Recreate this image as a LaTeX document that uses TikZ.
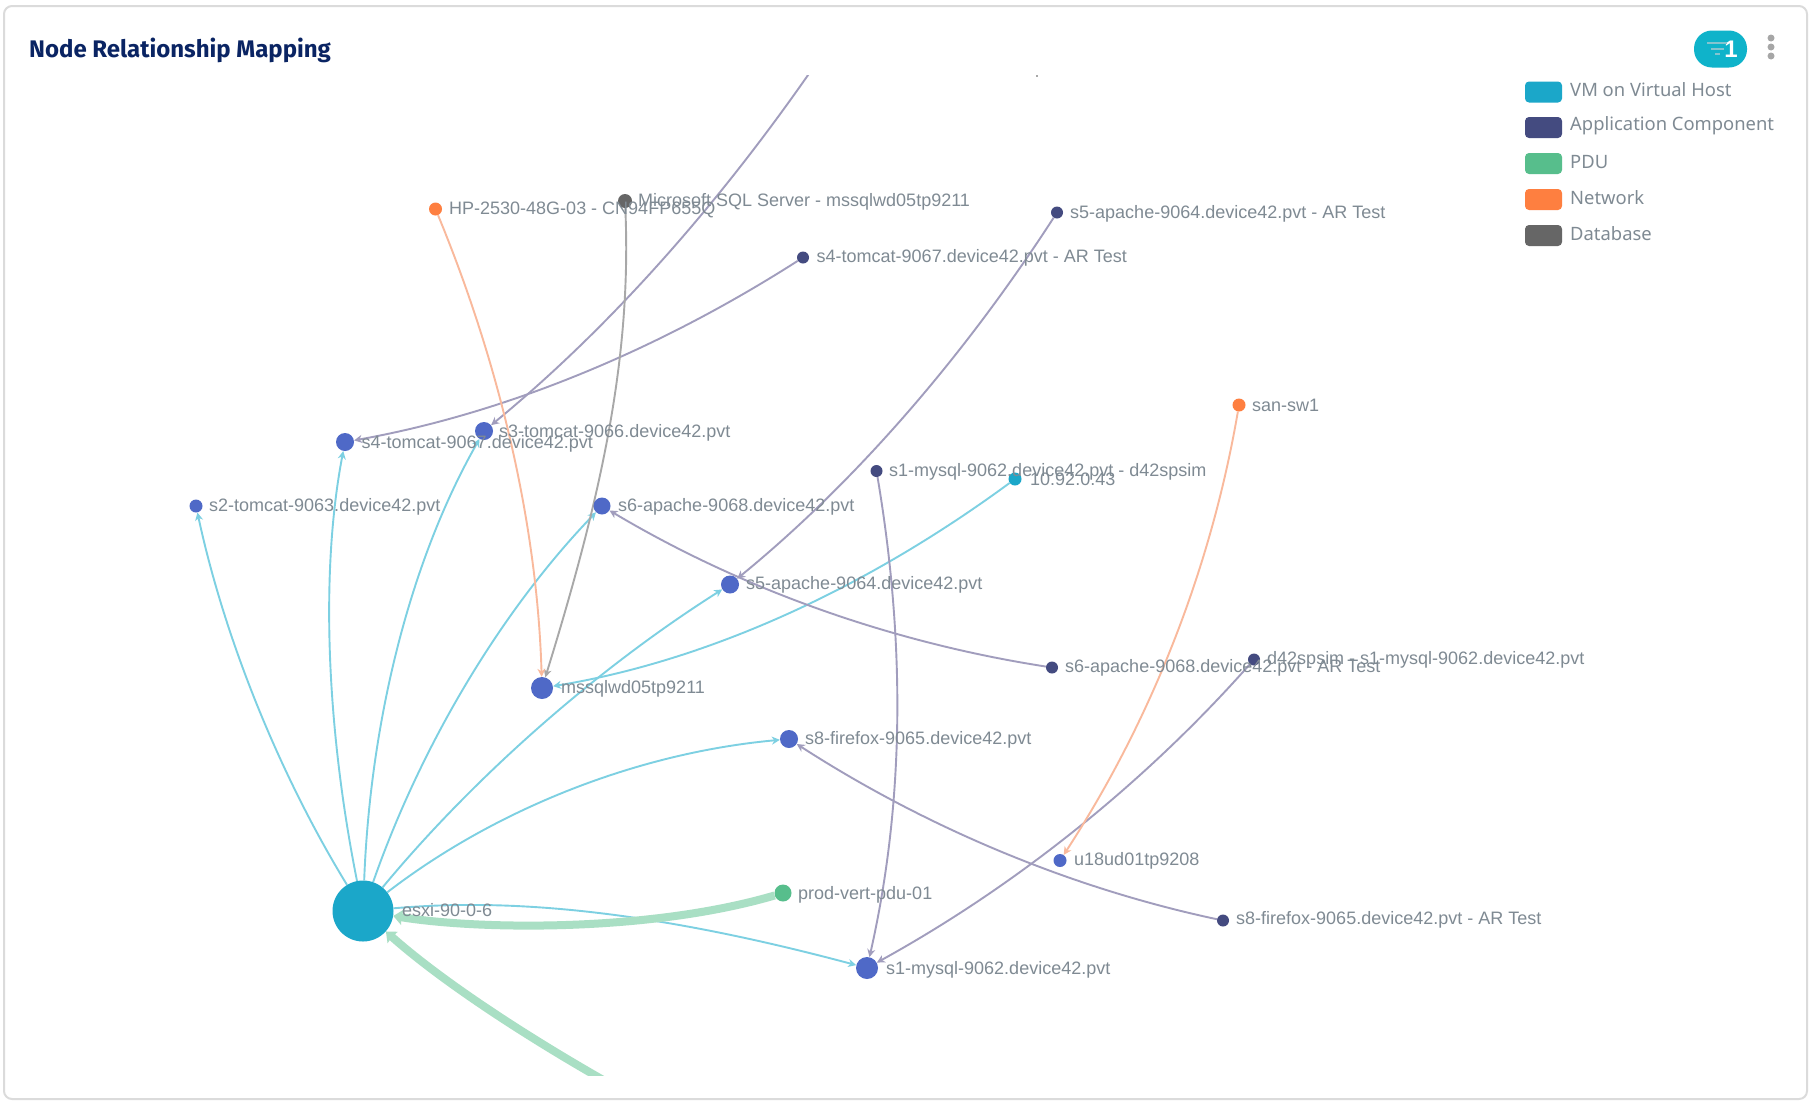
\documentclass[tikz,border=0pt]{standalone}
\usepackage{fontspec}
\setmainfont{Liberation Sans}
\newfontfamily\firafont{Fira Sans}
\newfontfamily\legfont{Noto Sans}
\usetikzlibrary{arrows.meta,backgrounds,calc}
\definecolor{cvm}{HTML}{1BA7C9}
\definecolor{capp}{HTML}{444B80}
\definecolor{cpdu}{HTML}{57BE8C}
\definecolor{cnet}{HTML}{FE7F40}
\definecolor{cdb}{HTML}{666666}
\definecolor{cblue}{HTML}{4F69C7}
\definecolor{ecyan}{HTML}{7DD0E2}
\definecolor{epurple}{HTML}{A19DBD}
\definecolor{egrey}{HTML}{A8A8A8}
\definecolor{eorange}{HTML}{F9B99C}
\definecolor{egreen}{HTML}{A9DFC4}
\definecolor{ctext}{HTML}{7F8A93}
\definecolor{ctitle}{HTML}{0A2463}
\definecolor{cpill}{HTML}{0FB3CA}
\definecolor{cicon}{HTML}{84C4CF}
\newcommand{\qedge}[4]{\draw[#1] (#2) .. controls ($(#2)!.667!#3$) and ($(#4)!.667!#3$) .. (#4);}
\tikzset{
  x=1pt,y=-1pt,
  dot/.style={circle,inner sep=0pt,draw=none},
  vm/.style={dot,fill=cblue},
  app/.style={dot,fill=capp},
  lbl/.style={anchor=west,inner sep=0pt,yshift=-1.5pt,text=ctext,font=\fontsize{18}{18}\selectfont},
  swatch/.style={rectangle,rounded corners=4pt,minimum width=37pt,minimum height=21pt,inner sep=0pt},
  legtext/.style={anchor=west,inner sep=0pt,text=ctext,font=\legfont\fontsize{18.4}{20}\selectfont},
  edgebase/.style={line width=1.9pt,-{Stealth[length=8pt,width=8pt,inset=2.5pt]}},
  ecy/.style={edgebase,draw=ecyan},
  epu/.style={edgebase,draw=epurple},
  egr/.style={edgebase,draw=egrey},
  eor/.style={edgebase,draw=eorange},
  egn/.style={line width=8pt,draw=egreen,-{Stealth[length=9pt,width=15pt,inset=1pt]}},
}
\begin{document}
\begin{tikzpicture}
\useasboundingbox (0,0) rectangle (1811,1101);
% nodes
\node[dot,fill=cvm,minimum size=61pt] (esxi) at (363,911) {};
\node[dot,fill=cpdu,minimum size=17pt] (prod) at (783,893) {};
\node[vm,minimum size=22pt] (s1) at (867,968) {};
\node[vm,minimum size=18pt] (s8) at (789,739) {};
\node[vm,minimum size=13pt] (u18) at (1060,860.5) {};
\node[vm,minimum size=22pt] (mssql) at (542,688) {};
\node[vm,minimum size=18pt] (s5) at (730,584.5) {};
\node[vm,minimum size=17pt] (s6) at (602,506) {};
\node[vm,minimum size=13pt] (s2) at (196,506) {};
\node[vm,minimum size=18pt] (s4) at (345,442) {};
\node[vm,minimum size=18pt] (s3) at (484,431) {};
\node[app,minimum size=12pt] (s8ar) at (1223,920.5) {};
\node[app,minimum size=12pt] (s6ar) at (1052,667.5) {};
\node[app,minimum size=12pt] (d42) at (1254,659.5) {};
\node[app,minimum size=12pt] (s1ar) at (876.5,471) {};
\node[app,minimum size=12pt] (s5ar) at (1057,212.5) {};
\node[app,minimum size=12pt] (s4ar) at (803,257.5) {};
\node[dot,fill=cvm,minimum size=13pt] (ten) at (1015,479) {};
\node[dot,fill=cnet,minimum size=13pt] (san) at (1239,405) {};
\node[dot,fill=cnet,minimum size=13pt] (hp) at (435.5,209) {};
\node[dot,fill=cdb,minimum size=14pt] (db) at (625,201) {};
\coordinate (top) at (840,28);
\coordinate (bot) at (680,1122);
% labels
\node[lbl] (lhp) at (449,208) {HP-2530-48G-03 - CN94FP655Q};
\node[lbl] (ldb) at (638,200) {Microsoft SQL Server - mssqlwd05tp9211};
\node[lbl] (l5ar) at (1070,212) {s5-apache-9064.device42.pvt - AR Test};
\node[lbl] (l4ar) at (816.5,256) {s4-tomcat-9067.device42.pvt - AR Test};
\node[lbl] (l3) at (499,431) {s3-tomcat-9066.device42.pvt};
\node[lbl] (l4) at (361.5,442) {s4-tomcat-9067.device42.pvt};
\node[lbl] (l2) at (209,505) {s2-tomcat-9063.device42.pvt};
\node[lbl] (l6) at (618,505) {s6-apache-9068.device42.pvt};
\node[lbl] (l1ar) at (889,470) {s1-mysql-9062.device42.pvt - d42spsim};
\node[lbl] (lten) at (1030,478) {10.92.0.43};
\node[lbl] (lsan) at (1252,404) {san-sw1};
\node[lbl] (l5) at (746,583) {s5-apache-9064.device42.pvt};
\node[lbl] (lms) at (561,687) {mssqlwd05tp9211};
\node[lbl] (l6ar) at (1065,666) {s6-apache-9068.device42.pvt - AR Test};
\node[lbl] (ld42) at (1267,658) {d42spsim - s1-mysql-9062.device42.pvt};
\node[lbl] (l8) at (805,738) {s8-firefox-9065.device42.pvt};
\node[lbl] (lu18) at (1074,859) {u18ud01tp9208};
\node[lbl] (l8ar) at (1236,918) {s8-firefox-9065.device42.pvt - AR Test};
\node[lbl] (lprod) at (798,893) {prod-vert-pdu-01};
\node[lbl] (lesxi) at (402,909) {esxi-90-0-6};
\node[lbl] (l1) at (886,968) {s1-mysql-9062.device42.pvt};
% title
\node[anchor=west,inner sep=0pt,text=ctitle,font=\firafont\bfseries\fontsize{24}{24}\selectfont] (title) at (29,50) {Node Relationship Mapping};
% filter pill
\node[rectangle,rounded corners=18pt,fill=cpill,minimum width=53pt,minimum height=37pt,inner sep=0pt] (pill) at (1720.5,49) {};
\node[inner sep=0pt,text=white,font=\bfseries\fontsize{24}{24}\selectfont] (pillnum) at (1731,49) {1};
\draw[line width=2pt,draw=cicon] (1707,42.5) -- (1727,42.5) (1711,48.5) -- (1724,48.5) (1715,54) -- (1720,54);
\fill[gray!70] (1771,38) circle (3.5) (1771,47) circle (3.5) (1771,56) circle (3.5);
% legend
\node[swatch,fill=cvm] (k1) at (1543.5,92) {};
\node[swatch,fill=capp] (k2) at (1543.5,127.5) {};
\node[swatch,fill=cpdu] (k3) at (1543.5,163.5) {};
\node[swatch,fill=cnet] (k4) at (1543.5,199.5) {};
\node[swatch,fill=cdb] (k5) at (1543.5,235.5) {};
\node[legtext] (t1) at (1570,90) {VM on Virtual Host};
\node[legtext] (t2) at (1570,126) {Application Component};
\node[legtext] (t3) at (1570,162.5) {PDU};
\node[legtext] (t4) at (1570,198) {Network};
\node[legtext] (t5) at (1570,234) {Database};
\begin{scope}[on background layer]
\draw[draw=black!14,line width=2pt,fill=white,rounded corners=8pt] (4,6) rectangle (1807,1099);
\begin{scope}
\clip (5,75) rectangle (1805,1075);
\fill[egrey] (1035.5,74.5) rectangle (1038,76.5);
% cyan
\qedge{ecy}{esxi}{(240,710)}{s2}
\qedge{ecy}{esxi}{(308,635)}{s4}
\qedge{ecy}{esxi}{(374,624)}{s3}
\qedge{ecy}{esxi}{(449,665)}{s6}
\qedge{ecy}{esxi}{(527,713)}{s5}
\qedge{ecy}{esxi}{(559,760)}{s8}
\draw[ecy] (esxi) .. controls (510,898) and (650,910) .. (s1);
\qedge{ecy}{ten}{(785,648)}{mssql}
% green
\draw[egn] (prod) .. controls (650,932) and (480,930) .. (esxi);
\qedge{egn}{bot}{(485,1020)}{esxi}
% purple
\qedge{epu}{s4ar}{(580,400)}{s4}
\qedge{epu}{top}{(680,270)}{s3}
\qedge{epu}{s5ar}{(913,435)}{s5}
\qedge{epu}{s6ar}{(810,630)}{s6}
\draw[epu] (s1ar) .. controls (905,640) and (905,800) .. (s1);
\qedge{epu}{d42}{(1090,845)}{s1}
\qedge{epu}{s8ar}{(995,872)}{s8}
% others
\draw[egr] (db) .. controls (632,360) and (600,500) .. (mssql);
\qedge{eor}{hp}{(535,450)}{mssql}
\qedge{eor}{san}{(1197,650)}{u18}
\end{scope}
\end{scope}
\end{tikzpicture}
\end{document}
